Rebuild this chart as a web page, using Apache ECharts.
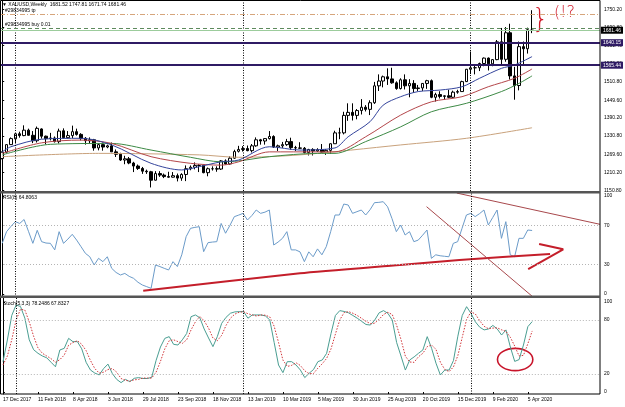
<!DOCTYPE html>
<html>
<head>
<meta charset="utf-8">
<script src="https://cdn.jsdelivr.net/npm/echarts@6/dist/echarts.min.js"></script>
<style>
  html, body { margin: 0; padding: 0; background: #fff; }
  #chart { width: 625px; height: 407px; }
</style>
</head>
<body>
<div id="chart"></div>
<script>
// XAUUSD weekly bars, week of 17 Dec 2017 .. week of 12 Apr 2020 (122 bars)
const opens = [1256,1277,1302,1321,1338,1332,1350,1333,1315,1354,1330,1322,1324,1312,1348,1325,1332,1345,1336,1323,
  1315,1318,1291,1302,1294,1298,1278,1270,1251,1255,1241,1231,1223,1214,1212,1184,1206,1201,1196,1194,
  1199,1191,1203,1222,1227,1233,1233,1209,1222,1222,1221,1248,1238,1257,1280,1286,1289,1282,1298,1318,
  1314,1322,1329,1294,1298,1302,1312,1292,1291,1290,1276,1286,1281,1285,1277,1283,1305,1341,1341,1399,
  1409,1399,1415,1426,1419,1441,1497,1513,1527,1520,1507,1488,1517,1497,1505,1488,1490,1505,1514,1459,
  1468,1462,1464,1459,1476,1478,1511,1552,1557,1557,1571,1589,1570,1584,1643,1585,1673,1530,1498,1627,
  1620,1681.52]
const closes = [1277,1302,1322,1338,1332,1350,1333,1315,1356,1330,1322,1324,1312,1347,1325,1332,1345,1336,1323,1315,
  1318,1291,1302,1294,1298,1278,1270,1251,1255,1241,1231,1223,1214,1212,1184,1206,1201,1196,1194,1199,
  1191,1203,1222,1227,1233,1233,1209,1222,1222,1221,1248,1238,1257,1279,1286,1289,1282,1298,1318,1314,
  1322,1329,1294,1298,1302,1312,1292,1291,1290,1276,1286,1281,1285,1277,1283,1305,1341,1341,1399,1409,
  1399,1415,1426,1419,1441,1497,1513,1527,1520,1507,1488,1517,1497,1505,1488,1490,1505,1514,1459,1468,
  1462,1464,1459,1476,1478,1511,1552,1557,1557,1571,1589,1570,1584,1643,1585,1673,1530,1498,1627,1620,
  1683,1681.46]
const lows = [1253,1275,1301,1307,1325,1330,1332,1307,1309,1322,1303,1316,1309,1306,1322,1322,1324,1332,1316,1302,
  1305,1282,1283,1282,1290,1278,1261,1248,1237,1237,1211,1218,1205,1205,1160,1183,1195,1191,1192,1193,
  1180,1182,1181,1217,1220,1211,1207,1197,1216,1212,1218,1236,1235,1255,1276,1279,1280,1276,1295,1302,
  1302,1319,1291,1281,1291,1298,1285,1281,1288,1273,1266,1266,1278,1275,1268,1272,1305,1320,1336,1381,
  1382,1386,1402,1412,1400,1437,1480,1492,1500,1504,1484,1485,1485,1459,1474,1480,1480,1487,1456,1445,
  1455,1451,1456,1457,1471,1478,1510,1536,1535,1546,1562,1548,1562,1582,1563,1577,1518,1451,1482,1567,
  1604,1671.74]
const highs = [1279,1303,1326,1340,1345,1366,1355,1347,1362,1356,1332,1341,1329,1355,1356,1347,1365,1355,1340,1327,
  1326,1321,1307,1309,1302,1309,1286,1275,1265,1261,1245,1236,1228,1219,1215,1214,1214,1206,1212,1211,
  1206,1207,1233,1233,1243,1237,1237,1226,1230,1230,1251,1253,1263,1285,1298,1297,1299,1304,1326,1321,
  1323,1347,1333,1302,1311,1321,1325,1298,1310,1294,1288,1290,1290,1304,1287,1306,1348,1358,1411,1439,
  1439,1420,1453,1433,1449,1510,1535,1531,1555,1557,1512,1522,1535,1519,1516,1500,1506,1517,1518,1474,
  1479,1466,1484,1481,1484,1514,1553,1611,1563,1574,1591,1591,1586,1649,1689,1692,1703,1560,1644,1644,
  1690,1747.81]

// moving averages: [bar index, price]
const maBlue = [[0,1278],[2,1295],[9,1320],[18,1323],[25,1301],[34,1240],[41,1218],[45,1229],[50,1245],[54,1251],
  [61,1295],[68,1284],[76,1291],[79,1328],[84,1378],[87,1433],[91,1461],[95,1478],[100,1483],[105,1494],
  [109,1522],[114,1555],[117,1566],[121,1594]]
const maRed = [[0,1273],[9,1308],[18,1317],[25,1306],[34,1262],[43,1240],[50,1234],[54,1245],[61,1278],[72,1278],
  [76,1278],[83,1328],[91,1400],[98,1444],[105,1461],[111,1494],[117,1522],[121,1553]]
const maGreen = [[0,1268],[11,1303],[25,1306],[34,1284],[43,1260],[50,1245],[54,1248],[61,1262],[72,1273],[76,1273],
  [83,1312],[91,1361],[98,1411],[106,1439],[114,1478],[118,1505],[121,1530]]
const maTan = [[0,1262],[22,1273],[45,1268],[54,1260],[68,1268],[91,1301],[106,1323],[121,1358]]

const rsi = [51.7,63.6,69,73.8,72,76,64,51.7,65,53.4,52,51.7,45,63.6,51.7,56,60.9,55,48.3,41.5,
  38,29.6,36.4,33,38,26.2,22,19.4,21,18,16,12,9.2,7.5,5.8,29.6,28,26.2,24.5,33,
  28,40,58.5,67,68,68.7,43.2,52.4,53,53.4,72,62,70,78.9,80.5,82.3,75.5,80,85.7,82.3,
  83.5,85.7,50,53,56.8,63.6,45,45,43,33,43,38,46,40,48.3,63.6,80.6,80.6,91.8,90.8,
  82.3,84,85.7,80.6,86,93.2,93.5,94.2,89,77,63.6,70.4,60.2,63.6,53.4,55,60,65.3,36.4,40,
  39,38.5,38,51.7,53.4,67,80.6,82.3,79,82,85.7,70.4,78,85.7,56.8,73.8,40,38,56.8,56.8,
  65.3,64.8]
const stochMain = [33.7,57.8,85,96.7,95,82,58,47,43,40,38,33,28,46.7,48.5,59.6,55.9,56,48,33,
  24.4,21,19,26,31,20.5,14,10.4,14,11.5,15.2,16,15,15,16.3,35,50,59.6,61.5,53,
  52.2,58,65,83.7,85.6,82.5,70,60,50.4,61.5,76.3,83,87.5,89,89.3,89.3,82,85.6,85.6,85.6,
  84.5,80,55,30,21.5,33.7,33.7,30,24.4,16,20.8,25,33.7,35.6,43,65,85,90.4,89.5,88,
  85,82,78.5,75,74.4,80,88,90.4,87.4,80,55,40,24.4,35.6,39,43,46.7,61.5,48.5,32,
  18.9,24.4,24.4,35,62,85,94.8,87.4,78,72,69,70,74,70,63.3,69,50,34,36,52.2,
  72.6,78.25]
const stochSignal = [30,40,58,80,92,91,78,62,49,43,40,37,33,36,41,52,55,57,53,46,
  35,26,21,22,25,26,22,15,13,12,13.5,14,15.5,15.5,15.5,22,34,48,57,58,
  56,54,58,69,78,84,79,71,60,57,63,74,82,86.5,88.6,89.2,87,85.6,84.4,85.6,
  85.3,83.4,73,55,35.5,28.4,29.6,32.5,29.4,23.5,20.4,20.6,26.5,31.4,37.4,47.9,64.3,80.1,88.3,89.3,
  87.5,85,81.8,78.5,76,76.5,80.8,86.1,88.6,86,74.1,58.3,39.8,33.3,33,39.2,43,50.4,52.2,47.3,
  33.1,25.1,22.6,28,40.5,60.7,80.6,89.1,86.7,79.1,73,70.3,71,71.3,69.1,67.4,60.8,51,40,40.7,
  53.6,67.83]

const tickLabels = ['17 Dec 2017', '11 Feb 2018', '8 Apr 2018', '3 Jun 2018', '29 Jul 2018', '23 Sep 2018',
  '18 Nov 2018', '13 Jan 2019', '10 Mar 2019', '5 May 2019', '30 Jun 2019', '25 Aug 2019',
  '20 Oct 2019', '15 Dec 2019', '9 Feb 2020', '5 Apr 2020']
const priceTicks = [1150.80, 1210.20, 1269.60, 1330.80, 1390.20, 1449.60, 1510.80, 1570.20, 1631.40, 1690.80, 1750.20]
const yearStarts = [3, 55, 107]   // first weekly bar of 2018, 2019, 2020

// hand-drawn objects, [bar index, indicator value]
const rsiSupport = [[32.2,3.4],[68,21.1],[90.8,29.6],[104.4,34.7],[125.1,40.8]]
const rsiArrow = [[122.6,51],[128.1,45.6],[120.1,25.5]]
const rsiFallLine = [[96.9,89.1],[121.3,-3.4]]
const rsiTopLine = [[103.8,103],[136.5,71.1]]
const stochCircle = [[117.1,36.1,4.04,12.4]]
const scribble = [[122.9,1715],[128.4,1738]]
const scribbleText = ['}', '(!?']

const N = 137   // bar slots incl. empty space on the right
const cats = Array.from({ length: N }, (_, i) => i)
const FONT = 'Liberation Sans, Arial, sans-serif'
const candles = opens.map((o, i) => [o, closes[i], lows[i], highs[i]])

const sepLine = { color: '#000', type: [1, 1.5], width: 1 }
const levelLine = { color: '#b4b4b4', type: [1, 2], width: 1 }
const separators = yearStarts.map(i => ({ xAxis: i, lineStyle: sepLine }))

const catAxis = (grid, showLabels) => ({
  type: 'category', gridIndex: grid, data: cats, boundaryGap: true,
  axisLine: { show: false },
  axisTick: showLabels
    ? { show: true, length: 2, alignWithLabel: true, interval: i => i % 8 === 0 && i <= 120, lineStyle: { color: '#000' } }
    : { show: false },
  axisLabel: showLabels
    ? {
        show: true, interval: i => i % 8 === 0 && i <= 120, align: 'left', margin: 3,
        fontSize: 5, fontFamily: FONT, color: '#000',
        formatter: (v, i) => tickLabels[i / 8] || ''
      }
    : { show: false },
  splitLine: { show: false }
})
const valAxisX = grid => ({ type: 'value', gridIndex: grid, min: -0.5, max: N - 0.5, show: false })
const rightAxis = (grid, min, max, ticks, digits) => ({
  type: 'value', gridIndex: grid, position: 'right', min, max,
  axisLine: { show: true, lineStyle: { color: '#000', width: 1 } },
  axisTick: { show: true, length: 2, customValues: ticks, lineStyle: { color: '#000' } },
  axisLabel: {
    show: true, customValues: ticks, margin: 4, fontSize: 5, fontFamily: FONT, color: '#000',
    formatter: v => v.toFixed(digits)
  },
  splitLine: { show: false }
})

const boxLabel = (bg, text) => ({
  show: true, position: 'end', distance: 1, formatter: text,
  backgroundColor: bg, color: '#fff', padding: [1, 2], fontSize: 5, fontFamily: FONT
})

const chart = echarts.init(document.getElementById('chart'))
chart.setOption({
  animation: false,
  backgroundColor: '#fff',
  title: [
    { text: '\u25BC XAUUSD,Weekly  1681.52 1747.81 1671.74 1681.46', left: 2, top: 2, padding: 0,
      textStyle: { fontSize: 5, fontWeight: 'normal', color: '#000', fontFamily: FONT } },
    { text: 'RSI(8) 64.8063', left: 3, top: 195, padding: 0,
      textStyle: { fontSize: 5, fontWeight: 'normal', color: '#000', fontFamily: FONT } },
    { text: 'Stoch(5,3,3) 78.2486 67.8327', left: 3, top: 301, padding: 0,
      textStyle: { fontSize: 5, fontWeight: 'normal', color: '#000', fontFamily: FONT } }
  ],
  grid: [
    { left: 0, right: 25, top: 1, height: 190 },
    { left: 0, right: 25, top: 193, height: 104 },
    { left: 0, right: 25, top: 298, height: 96 }
  ],
  xAxis: [catAxis(0, false), catAxis(1, false), catAxis(2, true), valAxisX(0), valAxisX(1), valAxisX(2)],
  yAxis: [
    rightAxis(0, 1148.2, 1778.4, priceTicks, 2),
    rightAxis(1, -3.06, 103.06, [0, 30, 70, 100], 0),
    rightAxis(2, -2.22, 104.44, [0, 20, 80, 100], 0)
  ],
  graphic: [
    { type: 'rect', shape: { x: 0.5, y: 0.5, width: 599.5, height: 393.5 }, style: { fill: null, stroke: '#000', lineWidth: 1 }, z: 100 },
    { type: 'rect', shape: { x: 0, y: 191, width: 600, height: 2.5 }, style: { fill: '#555' }, z: 100 },
    { type: 'rect', shape: { x: 0, y: 295.5, width: 600, height: 2.5 }, style: { fill: '#555' }, z: 100 }
  ],
  series: [
    {
      type: 'candlestick', xAxisIndex: 0, yAxisIndex: 0, data: candles, barWidth: 3,
      itemStyle: { color: '#fff', color0: '#000', borderColor: '#000', borderColor0: '#000', borderColorDoji: '#000', borderWidth: 1 },
      markLine: {
        silent: true, symbol: ['none', 'none'], animation: false,
        label: { show: false },
        data: [
          ...separators,
          { yAxis: 1735, lineStyle: { color: '#d6a57c', type: [5, 2, 1, 2], width: 1 },
            label: { show: true, position: 'insideStartTop', distance: [5, 1], formatter: '#29834995 tp', fontSize: 5, fontFamily: FONT, color: '#000' } },
          { yAxis: 1687, lineStyle: { color: '#5d8a5d', type: [4, 3], width: 1 },
            label: { show: true, position: 'insideStartTop', distance: [5, 1], formatter: '#29834995 buy 0.01', fontSize: 5, fontFamily: FONT, color: '#000' } },
          { yAxis: 1681.46, lineStyle: { color: '#9ccc9c', type: 'solid', width: 1 }, label: boxLabel('#000', '1681.46') },
          { yAxis: 1640.15, lineStyle: { color: '#2f1b64', type: 'solid', width: 2 }, label: boxLabel('#2f1b64', '1640.15') },
          { yAxis: 1565.44, lineStyle: { color: '#2f1b64', type: 'solid', width: 2 }, label: boxLabel('#2f1b64', '1565.44') }
        ]
      }
    },
    { type: 'line', xAxisIndex: 3, yAxisIndex: 0, data: maTan, showSymbol: false, smooth: 0.3, lineStyle: { color: '#c9a27c', width: 1 } },
    { type: 'line', xAxisIndex: 3, yAxisIndex: 0, data: maGreen, showSymbol: false, smooth: 0.3, lineStyle: { color: '#3d8a45', width: 1 } },
    { type: 'line', xAxisIndex: 3, yAxisIndex: 0, data: maRed, showSymbol: false, smooth: 0.3, lineStyle: { color: '#b4464a', width: 1 } },
    { type: 'line', xAxisIndex: 3, yAxisIndex: 0, data: maBlue, showSymbol: false, smooth: 0.3, lineStyle: { color: '#34449c', width: 1 } },
    {
      type: 'custom', xAxisIndex: 3, yAxisIndex: 0, data: scribble, clip: false,
      renderItem: (params, api) => {
        const c = api.coord([api.value(0), api.value(1)])
        const big = params.dataIndex === 0
        return {
          type: 'text', x: c[0], y: c[1],
          style: { text: scribbleText[params.dataIndex], fill: '#d01828', fontSize: big ? 26 : 16,
            fontFamily: 'DejaVu Sans, sans-serif', fontWeight: 200, align: 'center', verticalAlign: 'middle' }
        }
      }
    },
    {
      type: 'line', xAxisIndex: 1, yAxisIndex: 1, data: rsi, showSymbol: false,
      lineStyle: { color: '#6b9bc9', width: 1 },
      markLine: {
        silent: true, symbol: ['none', 'none'], label: { show: false },
        data: [...separators, { yAxis: 70, lineStyle: levelLine }, { yAxis: 30, lineStyle: levelLine }]
      }
    },
    { type: 'line', xAxisIndex: 4, yAxisIndex: 1, data: rsiSupport, showSymbol: false, smooth: 0.2, lineStyle: { color: '#c41e2a', width: 2 } },
    { type: 'line', xAxisIndex: 4, yAxisIndex: 1, data: rsiArrow, showSymbol: false, lineStyle: { color: '#c41e2a', width: 2 } },
    { type: 'line', xAxisIndex: 4, yAxisIndex: 1, data: rsiFallLine, showSymbol: false, lineStyle: { color: '#a8484c', width: 1 } },
    { type: 'line', xAxisIndex: 4, yAxisIndex: 1, data: rsiTopLine, showSymbol: false, lineStyle: { color: '#a8484c', width: 1 } },
    {
      type: 'line', xAxisIndex: 2, yAxisIndex: 2, data: stochMain, showSymbol: false,
      lineStyle: { color: '#4a9e92', width: 1 },
      markLine: {
        silent: true, symbol: ['none', 'none'], label: { show: false },
        data: [...separators, { yAxis: 80, lineStyle: levelLine }, { yAxis: 20, lineStyle: levelLine }]
      }
    },
    { type: 'line', xAxisIndex: 2, yAxisIndex: 2, data: stochSignal, showSymbol: false, lineStyle: { color: '#d2363a', width: 1, type: [1.5, 1.5] } },
    {
      type: 'custom', xAxisIndex: 5, yAxisIndex: 2, data: stochCircle,
      renderItem: (params, api) => {
        const c = api.coord([api.value(0), api.value(1)])
        const e = api.coord([api.value(0) + api.value(2), api.value(1) + api.value(3)])
        return {
          type: 'ellipse',
          shape: { cx: c[0], cy: c[1], rx: Math.abs(e[0] - c[0]), ry: Math.abs(e[1] - c[1]) },
          style: { fill: null, stroke: '#c8142a', lineWidth: 1.6 }
        }
      }
    }
  ]
})
</script>
</body>
</html>
